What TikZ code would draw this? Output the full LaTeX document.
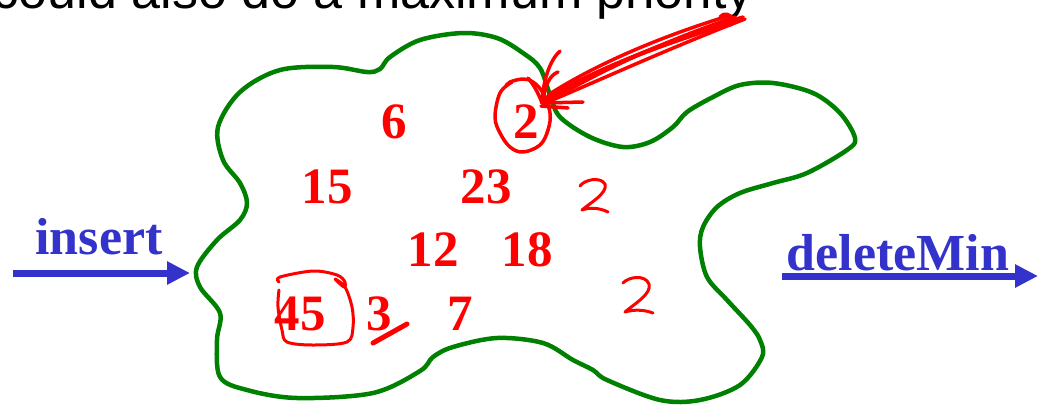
\documentclass[tikz,border=0pt]{standalone}
\usepackage{fontspec}
\setmainfont{Liberation Serif}
\newfontfamily\topsans{Liberation Sans}
\usetikzlibrary{arrows.meta}
\definecolor{blobgreen}{RGB}{0,128,0}
\definecolor{opblue}{RGB}{51,51,204}
\begin{document}
\begin{tikzpicture}[x=1pt,y=-1pt,
  num/.style={text=red,font=\fontsize{51}{60}\selectfont\bfseries,anchor=base,inner sep=0pt},
  oplabel/.style={text=opblue,font=\fontsize{52}{60}\selectfont\bfseries,anchor=base,inner sep=0pt},
  opline/.style={draw=opblue,line width=7pt,-{Triangle[length=23pt,width=22pt]}},
  ink/.style={draw=red,line width=3.5pt,line cap=round,line join=round},
  blob/.style={draw=blobgreen,line width=4.5pt,line join=round}]
\useasboundingbox (0,0) rectangle (1040,405);

% top (cut-off) text
\node[anchor=base,inner sep=0pt,text=black,font=\topsans\fontsize{52}{60}\selectfont] (note) at (373,8) {could also do a maximum priority};

% green blob
\draw[blob] plot[smooth cycle,tension=0.55] coordinates {
 (197,267) (217,240) (240,220) (247,203) (240,183) (223,160) (218,127)
 (240,92) (280,70) (333,67) (367,72) (380,69) (390,57) (420,40) (463,33)
 (497,38) (523,53) (540,68) (550,95) (560,117) (590,137) (623,147) (650,142)
 (673,127) (687,112) (713,97) (740,85) (773,83) (813,93) (840,113) (855,138)
 (847,150) (807,173) (773,183) (740,193) (717,207) (703,227) (700,247)
 (707,277) (727,300) (750,325) (760,340) (762,357) (740,385) (700,400)
 (660,400) (607,380) (593,370) (573,360) (543,343) (497,338) (453,347)
 (433,357) (420,371) (373,393) (297,398) (247,390) (220,377) (217,340)
 (220,313) (200,287)};

% numbers
\node[num] (n6)  at (394,138) {6};
\node[num] (n2)  at (526,138) {2};
\node[num] (n15) at (327,203) {15};
\node[num] (n23) at (486,203) {23};
\node[num] (n12) at (433,266) {12};
\node[num] (n18) at (527,266) {18};
\node[num] (n45) at (300,330) {45};
\node[num] (n3)  at (379,330) {3};
\node[num] (n7)  at (460,330) {7};

% hand-drawn circle around 2
\draw[ink] plot[smooth,tension=0.6] coordinates {
 (512,82) (500,93) (495,117) (500,133) (510,147) (523,152) (540,145)
 (548,130) (550,113) (543,93) (533,82) (523,79) (510,82) (506,86)};
% hand-drawn circle around 45
\draw[ink,line width=3pt] plot[smooth,tension=0.55] coordinates {
 (279,282) (280,277) (313,271) (337,275) (345,282) (344,287) (335,279)
 (345,287) (352,307) (353,327) (347,342) (313,345) (287,342) (282,330)
 (278,307) (279,290)};
% slash under 3
\draw[ink,line width=5pt] (373,343) -- (407,324);

% hand-drawn arrow towards 2
\draw[ink] (743,17) .. controls (660,45) and (590,70) .. (543,102);
\draw[ink] (738,21) .. controls (650,48) and (585,75) .. (546,98);
\draw[ink] (728,16) .. controls (650,40) and (590,68) .. (548,95);
\draw[ink] (745,19) .. controls (665,50) and (600,80) .. (550,101);
\draw[ink] (740,18) .. controls (655,44) and (595,72) .. (545,100);
\draw[ink] (735,17) .. controls (650,46) and (588,78) .. (544,104);
\draw[ink] (720,17) .. controls (724,12) and (730,14) .. (733,19) .. controls (735,23) and (731,26) .. (726,25);
\draw[ink] (542,103) .. controls (543,80) and (550,60) .. (560,51);
\draw[ink] (543,100) .. controls (545,85) and (550,75) .. (558,72);
\draw[ink] (542,103) -- (583,102);
\draw[ink] (541,106) -- (568,108);
\draw[ink] (542,103) .. controls (538,92) and (533,84) .. (528,78);

% handwritten 2s
\draw[ink,line width=3pt] (580,186) .. controls (584,180) and (600,176) .. (605,184)
  .. controls (608,193) and (590,203) .. (582,210)
  .. controls (590,207) and (600,208) .. (608,212);
\draw[ink,line width=3pt] (623,283) .. controls (628,277) and (645,274) .. (649,284)
  .. controls (652,294) and (634,304) .. (625,312)
  .. controls (635,309) and (645,310) .. (653,313);

% insert
\node[oplabel] (ins) at (99,254) {insert};
\coordinate (insS) at (13,273);
\coordinate (insE) at (190,273);
\draw[opline] (insS) -- (insE);

% deleteMin
\node[oplabel] (del) at (898,270) {deleteMin};
\coordinate (delS) at (782,276);
\coordinate (delE) at (1038,276);
\draw[opline] (delS) -- (delE);
\end{tikzpicture}
\end{document}
